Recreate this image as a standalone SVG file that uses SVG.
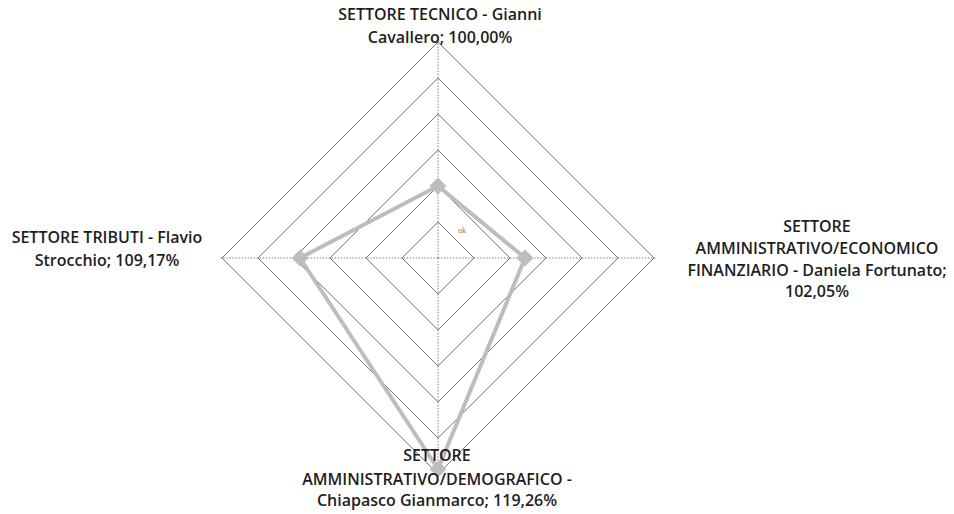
<svg xmlns="http://www.w3.org/2000/svg" width="954" height="514" viewBox="0 0 954 514">
<style>
.ring{fill:none;stroke:#7a7a7a;stroke-width:1}
.axis{stroke:#8a8a8a;stroke-width:1;stroke-dasharray:1.5 1.5}
.data{fill:none;stroke:#bdbdbd;stroke-width:4;stroke-linejoin:round}
.mk{fill:#bdbdbd}
.lbl{font-family:"Open Sans","Liberation Sans",Arial,sans-serif;font-weight:600;font-size:16px;fill:#1e1e1e;text-anchor:middle}
.ok{font-family:"Liberation Serif",serif;font-size:8px;fill:#777}
</style>
<rect width="954" height="514" fill="#fff"/>
<g id="grid">
<polygon class="ring" points="438,222 474,258 438,294 402,258"/>
<polygon class="ring" points="438,186 510,258 438,330 366,258"/>
<polygon class="ring" points="438,150 546,258 438,366 330,258"/>
<polygon class="ring" points="438,114 582,258 438,402 294,258"/>
<polygon class="ring" points="438,78 618,258 438,438 258,258"/>
<polygon class="ring" points="438,42 654,258 438,474 222,258"/>
</g>
<g id="axes">
<line class="axis" x1="438" y1="258" x2="438" y2="40"/>
<line class="axis" x1="438" y1="258" x2="656" y2="258"/>
<line class="axis" x1="438" y1="258" x2="438" y2="474"/>
<line class="axis" x1="438" y1="258" x2="220" y2="258"/>
</g>
<text class="ok" x="458" y="233">ok</text>
<g id="connectors">
<polygon class="data" points="438,186 525,258 438,469 300,258"/>
</g>
<g id="node-tecnico">
<rect class="mk" x="432" y="180" width="12" height="12" transform="rotate(45 438 186)"/>
<text class="lbl" x="440" y="20">SETTORE TECNICO - Gianni</text>
<text class="lbl" x="440" y="43">Cavallero; 100,00%</text>
</g>
<g id="node-economico">
<rect class="mk" x="519" y="252" width="12" height="12" transform="rotate(45 525 258)"/>
<text class="lbl" x="817" y="232">SETTORE</text>
<text class="lbl" x="817" y="254">AMMINISTRATIVO/ECONOMICO</text>
<text class="lbl" x="817" y="276">FINANZIARIO - Daniela Fortunato;</text>
<text class="lbl" x="817" y="297">102,05%</text>
</g>
<g id="node-demografico">
<rect class="mk" x="432" y="463" width="12" height="12" transform="rotate(45 438 469)"/>
<text class="lbl" x="437" y="461">SETTORE</text>
<text class="lbl" x="437" y="485">AMMINISTRATIVO/DEMOGRAFICO -</text>
<text class="lbl" x="437" y="506">Chiapasco Gianmarco; 119,26%</text>
</g>
<g id="node-tributi">
<rect class="mk" x="294" y="252" width="12" height="12" transform="rotate(45 300 258)"/>
<text class="lbl" x="107" y="243">SETTORE TRIBUTI - Flavio</text>
<text class="lbl" x="107" y="266">Strocchio; 109,17%</text>
</g>
</svg>
